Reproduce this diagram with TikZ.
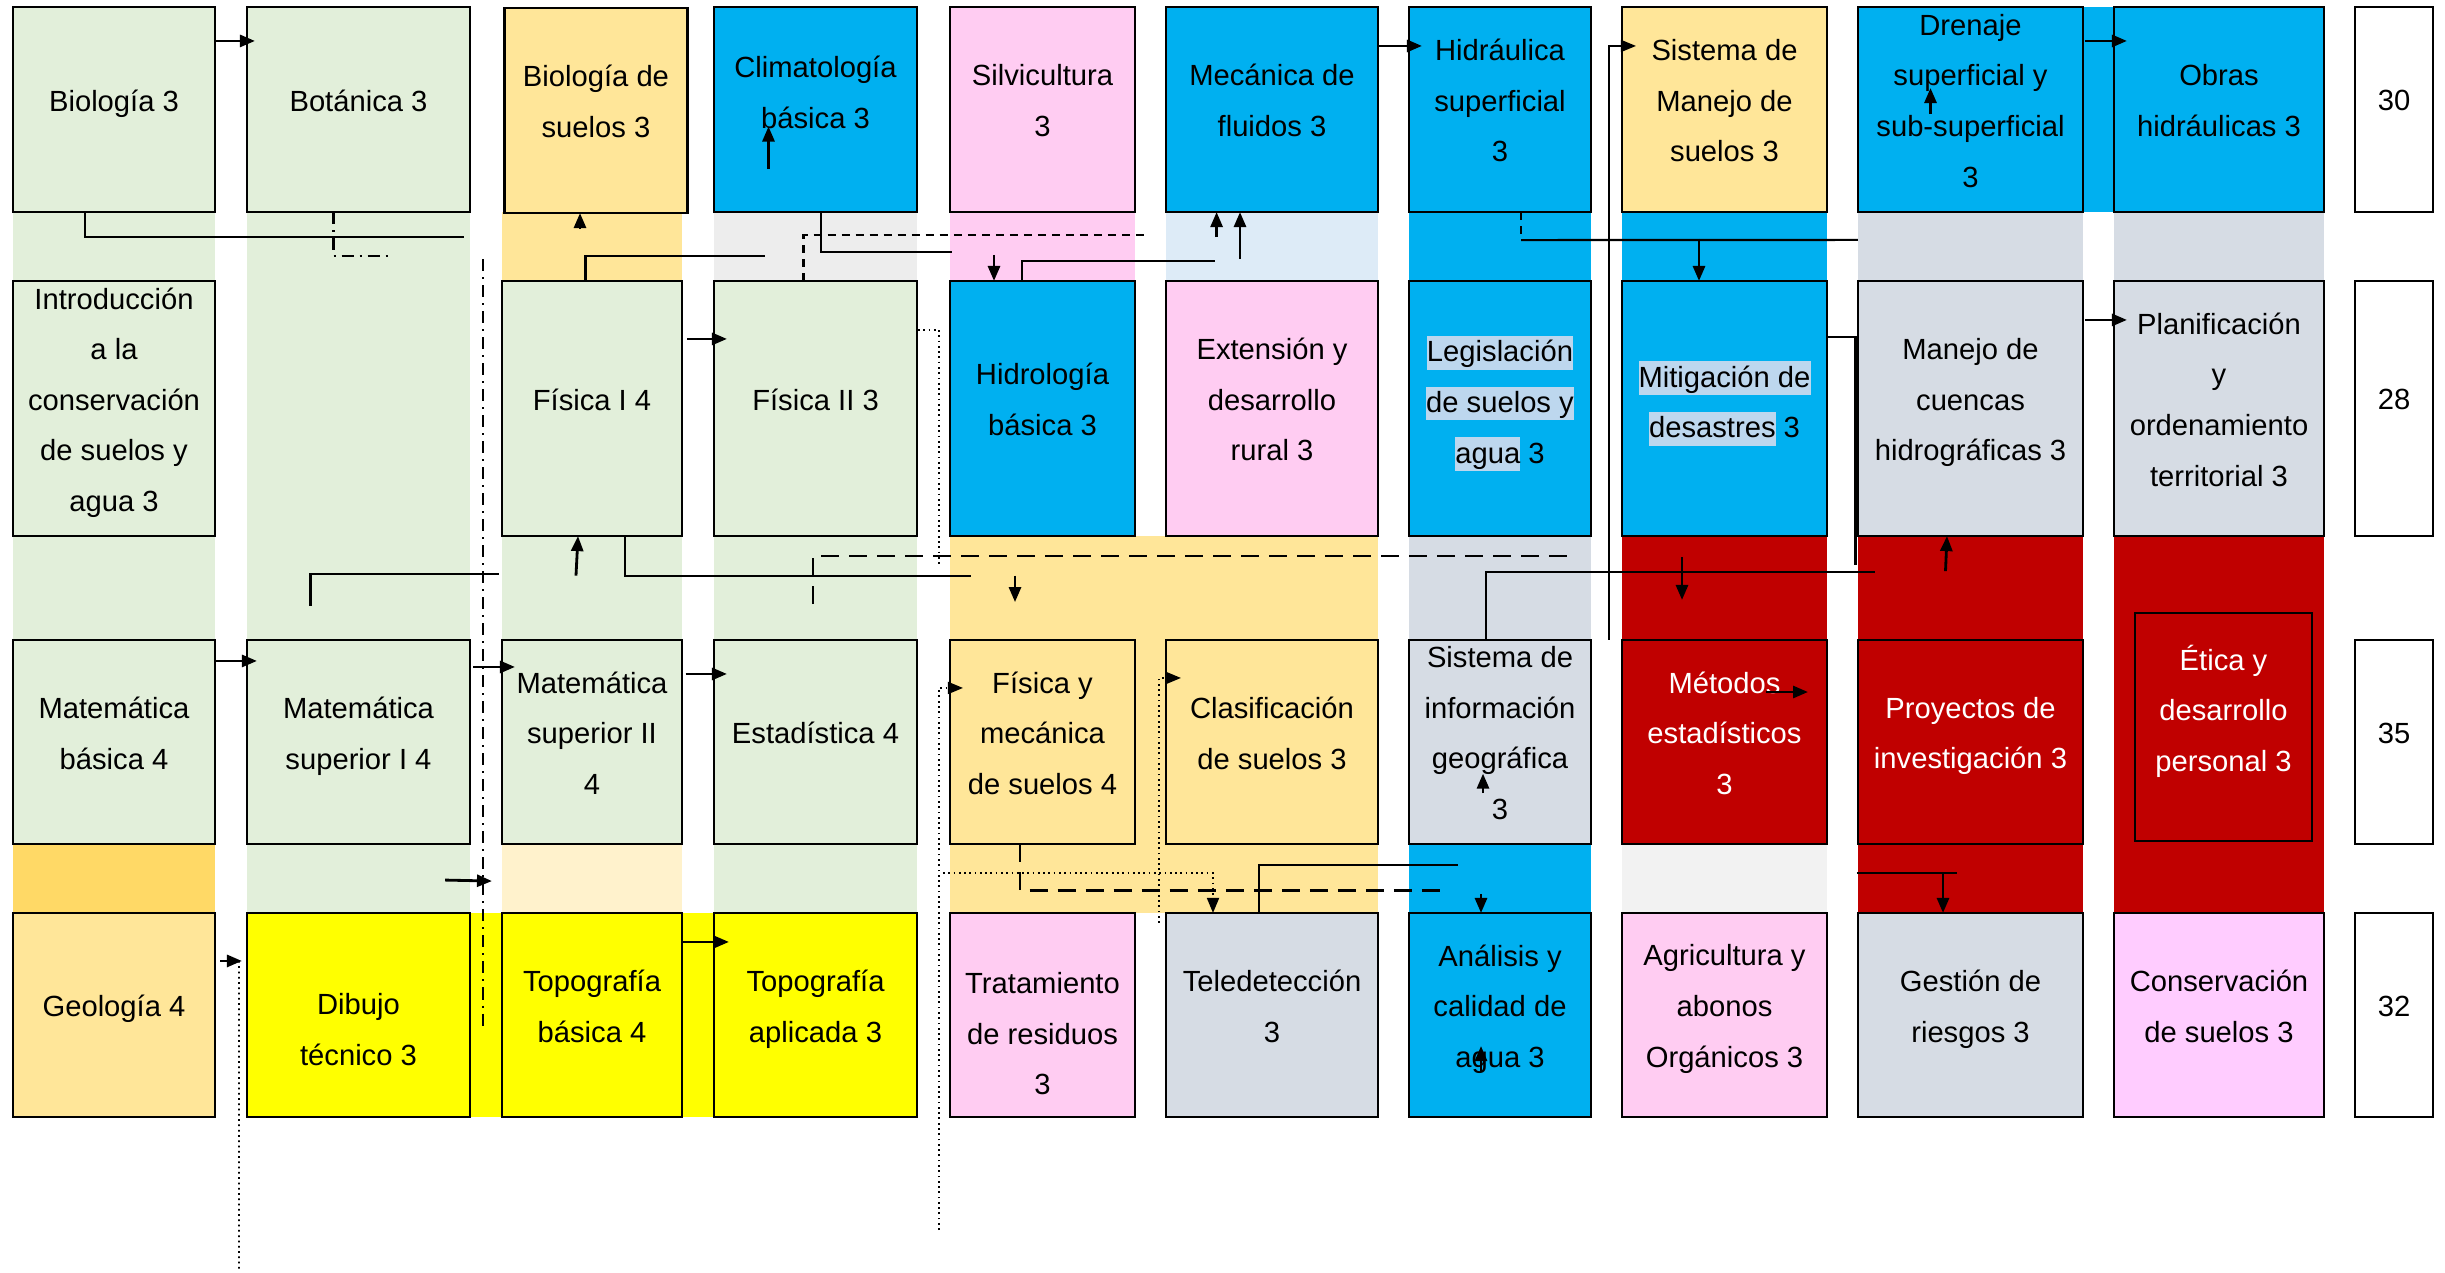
\documentclass[tikz,border=0pt]{standalone}
\usepackage{fontspec}
\setmainfont{Liberation Sans}
\usepackage{xcolor}
\usepackage{tikz}
\usetikzlibrary{calc,arrows.meta}
\definecolor{cgreen}{HTML}{E2EFDA}
\definecolor{ctan}{HTML}{FFE699}
\definecolor{cgold}{HTML}{FFD966}
\definecolor{cpale}{HTML}{FFF2CC}
\definecolor{ccyan}{HTML}{00B0F0}
\definecolor{cpink}{HTML}{FFCCF2}
\definecolor{cmagenta}{HTML}{FFCCFF}
\definecolor{cgrey}{HTML}{D6DCE4}
\definecolor{clgrey}{HTML}{EDEDED}
\definecolor{cxgrey}{HTML}{F2F2F2}
\definecolor{cblue}{HTML}{DDEBF7}
\definecolor{cred}{HTML}{C00000}
\definecolor{cyellow}{HTML}{FFFF00}
\definecolor{chl}{HTML}{BDD7EE}
\newcommand{\hlite}[1]{{\setlength{\fboxsep}{0pt}\colorbox{chl}{\rule[-0.27em]{0pt}{1.15em}#1}}}

\begin{document}
\begin{tikzpicture}[x=0.01cm, y=-0.01cm,
  course/.style={draw=black, line width=0.7pt, inner sep=0pt, outer sep=0pt, align=center, font=\fontsize{8.3}{14.4}\selectfont,
    execute at end node={\rule[-5.1pt]{0pt}{5.1pt}}},
  lift/.style={execute at end node={\rule[-#1]{0pt}{#1}}},
  rowa/.style={minimum height=2.05cm},
  rowb/.style={minimum height=2.55cm},
  rowc/.style={minimum height=2.04cm},
  numbox/.style={course, fill=white, minimum width=0.78cm},
  link/.style={line width=0.6pt},
  arr/.style={line width=0.8pt, -{Triangle[length=1.5mm,width=1.2mm]}},
  sdash/.style={line width=0.6pt, dash pattern=on 0.8mm off 0.6mm},
  ldash/.style={line width=0.6pt, dash pattern=on 1.8mm off 1mm},
  chainline/.style={line width=0.6pt, dash pattern=on 1.2mm off 0.6mm on 0.2mm off 0.6mm},
  dotline/.style={line width=0.5pt, dash pattern=on 0.5pt off 1pt}]
\useasboundingbox (0,0) rectangle (2445,1272);

% column bands
\fill[cgreen] (13,212) rectangle (215,281);
\fill[cgreen] (13,536) rectangle (215,640);
\fill[cgold] (13,844) rectangle (215,913);
\fill[cgreen] (247,212) rectangle (470,913);
\fill[ctan] (502,212) rectangle (682,281);
\fill[cgreen] (502,536) rectangle (682,640);
\fill[cpale] (502,844) rectangle (682,913);
\fill[clgrey] (714,212) rectangle (917,281);
\fill[cgreen] (714,536) rectangle (917,913);
\fill[cpink] (950,212) rectangle (1135,281);
\fill[cblue] (1166,212) rectangle (1378,281);
\fill[ctan] (950,536) rectangle (1378,913);
\fill[ccyan] (1409,212) rectangle (1591,281);
\fill[cgrey] (1409,536) rectangle (1591,640);
\fill[ccyan] (1409,844) rectangle (1591,913);
\fill[ccyan] (1622,212) rectangle (1827,281);
\fill[cred] (1622,536) rectangle (1827,640);
\fill[cxgrey] (1622,844) rectangle (1827,913);
\fill[cgrey] (1858,212) rectangle (2083,281);
\fill[cred] (1858,536) rectangle (2083,913);
\fill[ccyan] (2083,7) rectangle (2114,212);
\fill[cgrey] (2114,212) rectangle (2324,281);
\fill[cred] (2114,536) rectangle (2324,913);
\fill[cyellow] (470,913) rectangle (502,1117);
\fill[cyellow] (682,913) rectangle (714,1117);

% first row
\node[course, rowa, fill=cgreen, minimum width=2.02cm] (bio) at (114,109.5) {Biología 3};
\node[course, rowa, fill=cgreen, minimum width=2.23cm] (bot) at (358.5,109.5) {Botánica 3};
\node[course, rowa, fill=ctan, minimum width=1.83cm] (biosue) at (596,110.5) {Biología de\\suelos 3};
\node[course, lift=9.9pt, rowa, fill=ccyan, minimum width=2.03cm] (clima) at (815.5,109.5) {Climatología\\básica 3};
\node[course, rowa, fill=cpink, minimum width=1.85cm] (silvi) at (1042.5,109.5) {Silvicultura\\3};
\node[course, rowa, fill=ccyan, minimum width=2.12cm] (mecflu) at (1272,109.5) {Mecánica de\\fluidos 3};
\node[course, rowa, fill=ccyan, minimum width=1.82cm] (hidra) at (1500,109.5) {Hidráulica\\superficial\\3};
\node[course, rowa, fill=ctan, minimum width=2.05cm] (sisman) at (1724.5,109.5) {Sistema de\\Manejo de\\suelos 3};
\node[course, rowa, fill=ccyan, minimum width=2.25cm] (dren) at (1970.5,109.5) {Drenaje\\superficial y\\sub-superficial\\3};
\node[course, rowa, fill=ccyan, minimum width=2.10cm] (obras) at (2219,109.5) {Obras\\hidráulicas 3};
\node[numbox, rowa] (n30) at (2394,109.5) {30};

% second row
\node[course, rowb, fill=cgreen, minimum width=2.02cm] (intro) at (114,408.5) {Introducción\\a la\\conservación\\de suelos y\\agua 3};
\node[course, rowb, fill=cgreen, minimum width=1.80cm] (fis1) at (592,408.5) {Física I 4};
\node[course, rowb, fill=cgreen, minimum width=2.03cm] (fis2) at (815.5,408.5) {Física II 3};
\node[course, rowb, fill=ccyan, minimum width=1.85cm] (hidro) at (1042.5,408.5) {Hidrología\\básica 3};
\node[course, rowb, fill=cpink, minimum width=2.12cm] (ext) at (1272,408.5) {Extensión y\\desarrollo\\rural 3};
\node[course, rowb, fill=ccyan, minimum width=1.82cm] (legis) at (1500,408.5) {\hlite{Legislación}\\\hlite{de suelos y}\\\hlite{agua} 3};
\node[course, rowb, fill=ccyan, minimum width=2.05cm] (mitig) at (1724.5,408.5) {\hlite{Mitigación de}\\\hlite{desastres} 3};
\node[course, rowb, fill=cgrey, minimum width=2.25cm] (cuencas) at (1970.5,408.5) {Manejo de\\cuencas\\hidrográficas 3};
\node[course, rowb, fill=cgrey, minimum width=2.10cm] (planif) at (2219,408.5) {Planificación\\y\\ordenamiento\\territorial 3};
\node[numbox, rowb] (n28) at (2394,408.5) {28};

% third row
\node[course, rowc, fill=cgreen, minimum width=2.02cm] (matb) at (114,742) {Matemática\\básica 4};
\node[course, rowc, fill=cgreen, minimum width=2.23cm] (mats1) at (358.5,742) {Matemática\\superior I 4};
\node[course, rowc, fill=cgreen, minimum width=1.80cm] (mats2) at (592,742) {Matemática\\superior II\\4};
\node[course, rowc, fill=cgreen, minimum width=2.03cm] (estad) at (815.5,742) {Estadística 4};
\node[course, rowc, fill=ctan, minimum width=1.85cm] (fismec) at (1042.5,742) {Física y\\mecánica\\de suelos 4};
\node[course, rowc, fill=ctan, minimum width=2.12cm] (clasif) at (1272,742) {Clasificación\\de suelos 3};
\node[course, rowc, fill=cgrey, minimum width=1.82cm] (sig) at (1500,742) {Sistema de\\información\\geográfica\\3};
\node[course, rowc, fill=cred, text=white, minimum width=2.05cm] (metest) at (1724.5,742) {Métodos\\estadísticos\\3};
\node[course, rowc, fill=cred, text=white, minimum width=2.25cm] (proy) at (1970.5,742) {Proyectos de\\investigación 3};
\node[course, lift=10.8pt, fill=cred, text=white, minimum width=1.77cm, minimum height=2.28cm] (etica) at (2223.5,727) {Ética y\\desarrollo\\personal 3};
\node[numbox, rowc] (n35) at (2394,742) {35};

% fourth row
\node[course, rowc, fill=ctan, minimum width=2.02cm] (geol) at (114,1015) {Geología 4};
\node[course, rowc, fill=cyellow, minimum width=2.23cm] (dibujo) at (358.5,1015) {\rule{0pt}{19.4pt}Dibujo\\técnico 3};
\node[course, rowc, fill=cyellow, minimum width=1.80cm] (topob) at (592,1015) {Topografía\\básica 4};
\node[course, rowc, fill=cyellow, minimum width=2.03cm] (topoa) at (815.5,1015) {Topografía\\aplicada 3};
\node[course, rowc, fill=cpink, minimum width=1.85cm] (trat) at (1042.5,1015) {\rule{0pt}{21.6pt}Tratamiento\\de residuos\\3};
\node[course, rowc, fill=cgrey, minimum width=2.12cm] (tele) at (1272,1015) {Teledetección\\3};
\node[course, rowc, fill=ccyan, minimum width=1.82cm] (anal) at (1500,1015) {Análisis y\\calidad de\\agua 3};
\node[course, rowc, fill=cpink, minimum width=2.05cm] (agri) at (1724.5,1015) {Agricultura y\\abonos\\Orgánicos 3};
\node[course, rowc, fill=cgrey, minimum width=2.25cm] (gest) at (1970.5,1015) {Gestión de\\riesgos 3};
\node[course, rowc, fill=cmagenta, minimum width=2.10cm] (cons) at (2219,1015) {Conservación\\de suelos 3};
\node[numbox, rowc] (n32) at (2394,1015) {32};

\coordinate (dotbot1) at (239,1272);
\coordinate (dotbot2) at (939,1230);

% connectors, top gaps
\draw[arr] ($(bio.north east)+(0,34)$) -- ($(bot.north west)+(8,34)$);
\draw[link] ($(bio.south)+(-29,0)$) |- ($(bot.south east)+(-6,25)$);
\draw[chainline] ($(bot.south)+(-25,0)$) |- ($(bot.south)+(29.5,44)$);
\draw[arr] ($(clima.center)+(-47,59.5)$) -- ($(clima.center)+(-47,17)$);
\draw[arr] ($(biosue.south)+(-16,16)$) -- ($(biosue.south)+(-16,0)$);
\draw[link] ($(fis1.north)+(-6.5,0)$) |- ($(clima.south)+(-50.5,44)$);
\draw[link] ($(clima.south)+(5.5,0)$) |- ($(silvi.south west)+(2,40)$);
\draw[sdash] ($(fis2.north)+(-12,0)$) |- ($(silvi.south east)+(11,23)$);
\draw[arr] ($(hidro.north)+(-48.5,-26)$) -- ($(hidro.north)+(-48.5,0)$);
\draw[link] ($(hidro.north)+(-20.5,0)$) |- ($(mecflu.south)+(-57.4,49)$);
\draw[arr] ($(mecflu.south)+(-55.4,25)$) -- ($(mecflu.south)+(-55.4,0)$);
\draw[arr] ($(mecflu.south)+(-32,47)$) -- ($(mecflu.south)+(-32,0)$);
\draw[arr] ($(mecflu.north east)+(0,39)$) -- ($(hidra.north west)+(13,39)$);
\draw[line width=0.4pt, -{Triangle[length=1.5mm,width=1.2mm]}] ($(sig.north east)+(18,0)$) |- ($(sisman.north west)+(14,39)$);
\draw[sdash] ($(hidra.south)+(21,0)$) -- ($(hidra.south)+(21,28)$);
\draw[link] ($(hidra.south)+(21,28)$) -- ($(cuencas.north west)+(0,-41)$);
\draw[arr] ($(mitig.north)+(-25.5,-42)$) -- ($(mitig.north)+(-25.5,0)$);
\draw[arr] ($(dren.north east)+(2,34)$) -- ($(obras.north west)+(13,34)$);
\draw[arr] ($(dren.center)+(-40,4.5)$) -- ($(dren.center)+(-40,-21.5)$);

% connectors, middle gaps
\draw[arr] ($(fis1.north east)+(5,58)$) -- ($(fis2.north west)+(13,58)$);
\draw[dotline] ($(fis2.north east)+(1,49)$) -| ($(fis2.south east)+(22,31)$);
\draw[ldash] ($(fis2.south)+(-2.5,68)$) |- ($(legis.south east)+(-19,20)$);
\draw[link] ($(fis1.south)+(33,0)$) |- ($(hidro.south west)+(21,39.5)$);
\draw[arr] ($(hidro.south)+(-27.5,39.5)$) -- ($(hidro.south)+(-27.5,66)$);
\draw[arr] ($(fis1.south)+(-16,39.5)$) -- ($(fis1.south)+(-14,0)$);
\draw[link] ($(mats1.north)+(-48,-34)$) |- ($(fis1.south west)+(-3,38)$);
\draw[chainline] ($(bot.south east)+(13,47)$) -- ($(dibujo.south east)+(13,-88)$);
\draw[link] ($(mitig.north east)+(0,56)$) -| ($(cuencas.south west)+(-2.5,29)$);
\draw[link] ($(sig.north)+(-14,0)$) |- ($(cuencas.south west)+(17,36)$);
\draw[arr] ($(metest.north)+(-42.5,-83)$) -- ($(metest.north)+(-42.5,-40)$);
\draw[arr] ($(cuencas.south)+(-25,35)$) -- ($(cuencas.south)+(-23.5,0)$);
\draw[arr] ($(cuencas.north east)+(2,39)$) -- ($(planif.north west)+(13,39)$);

% connectors, lower rows
\draw[arr] ($(matb.north east)+(0,21)$) -- ($(mats1.north west)+(10,21)$);
\draw[arr] ($(mats1.north east)+(3,27)$) -- ($(mats2.north west)+(13,27)$);
\draw[arr] ($(mats2.north east)+(3.6,34)$) -- ($(estad.north west)+(13,34)$);
\draw[arr] ($(mats1.south east)+(-25,36)$) -- ($(mats2.south west)+(-10,37)$);
\draw[arr] ($(geol.north east)+(5,48)$) -- ($(dibujo.north west)+(-5,48)$);
\draw[dotline] ($(dibujo.north west)+(-8,48)$) -- (dotbot1);
\draw[arr] ($(topob.north east)+(0,29)$) -- ($(topoa.north west)+(15,29)$);
\draw[dotline, -{Triangle[length=1.5mm,width=1.2mm]}] (dotbot2) |- ($(fismec.north west)+(13,48)$);
\draw[dotline, -{Triangle[length=1.5mm,width=1.2mm]}] ($(fismec.south west)+(-7,29)$) -| ($(tele.north)+(-59,0)$);
\draw[dotline, -{Triangle[length=1.5mm,width=1.2mm]}] ($(tele.north west)+(-7,10)$) |- ($(clasif.north west)+(15,38)$);
\draw[ldash] ($(fismec.south)+(-22.5,0)$) |- ($(anal.north west)+(38.5,-22.5)$);
\draw[link] ($(tele.north)+(-13,0)$) |- ($(anal.north west)+(49,-48)$);
\draw[arr] ($(anal.north)+(-19,-19)$) -- ($(anal.north)+(-19,0)$);
\draw[arr] ($(sig.center)+(-17,51)$) -- ($(sig.center)+(-17,31.6)$);
\draw[arr] ($(anal.center)+(-19,56.5)$) -- ($(anal.center)+(-19,31)$);
\draw[arr] ($(metest.center)+(41.5,-50)$) -- ($(metest.center)+(83.5,-50)$);
\draw[link] ($(proy.south west)+(-1,29)$) -- ($(proy.south west)+(99,29)$);
\draw[arr] ($(gest.north)+(-27.5,-40)$) -- ($(gest.north)+(-27.5,0)$);
\end{tikzpicture}
\end{document}
